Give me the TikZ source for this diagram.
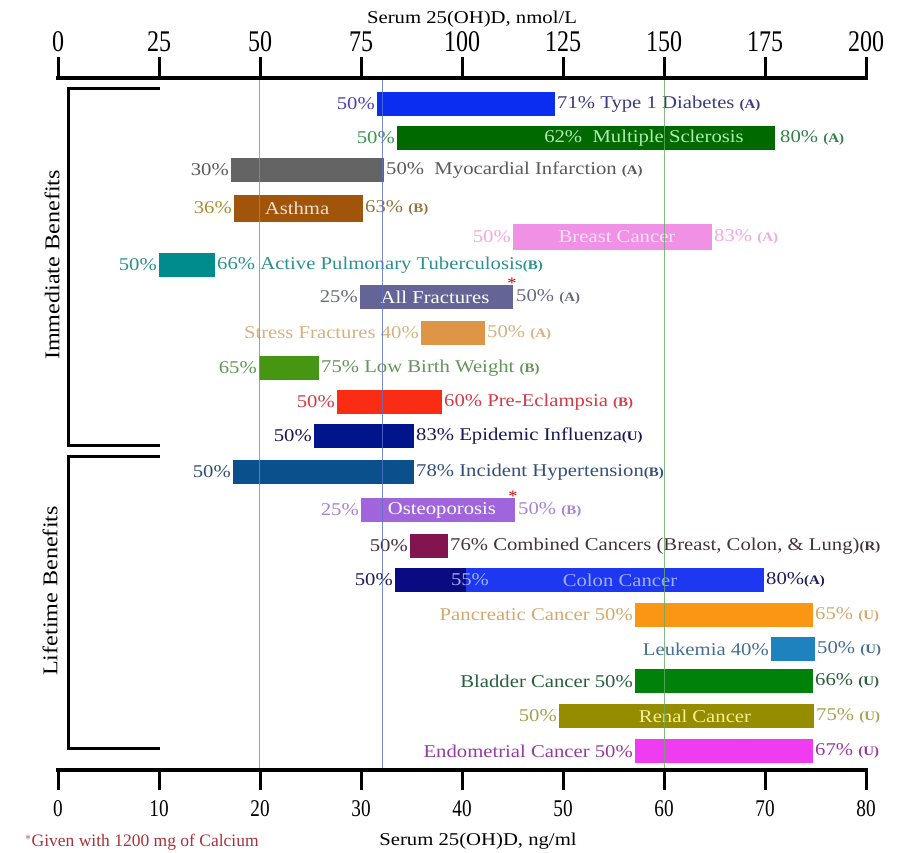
\documentclass[tikz,border=0pt]{standalone}
\usepackage{fontspec}
\setmainfont{Liberation Serif}[FakeStretch=1.15]
\newfontfamily\tickfont{Liberation Serif}[FakeStretch=0.8]
\newfontfamily\notefont{Liberation Serif}
\usepackage{tikz}
\usetikzlibrary{positioning}
\usepackage{xcolor}
\definecolor{refRed}{RGB}{215,105,105}
\definecolor{refBlue}{RGB}{90,110,200}
\definecolor{refGreen}{RGB}{100,170,100}
\definecolor{barT1D}{RGB}{10,45,240}
\definecolor{txtT1D}{RGB}{60,60,125}
\definecolor{lftT1D}{RGB}{75,65,185}
\definecolor{barMS}{RGB}{0,105,0}
\definecolor{inMS}{RGB}{175,235,175}
\definecolor{txtMS}{RGB}{60,150,85}
\definecolor{barMI}{RGB}{100,100,100}
\definecolor{txtMI}{RGB}{90,90,90}
\definecolor{barAsthma}{RGB}{160,85,10}
\definecolor{inAsthma}{RGB}{240,225,210}
\definecolor{txtAsthma}{RGB}{150,115,60}
\definecolor{barBreast}{RGB}{240,145,230}
\definecolor{inBreast}{RGB}{252,225,250}
\definecolor{txtBreast}{RGB}{238,170,228}
\definecolor{barTB}{RGB}{0,140,140}
\definecolor{txtTB}{RGB}{45,145,145}
\definecolor{barFrac}{RGB}{100,100,150}
\definecolor{txtFrac}{RGB}{105,105,130}
\definecolor{barStress}{RGB}{222,150,70}
\definecolor{txtStress}{RGB}{215,178,128}
\definecolor{barLBW}{RGB}{70,150,20}
\definecolor{txtLBW}{RGB}{100,150,90}
\definecolor{barPre}{RGB}{250,45,20}
\definecolor{txtPre}{RGB}{210,60,70}
\definecolor{barFlu}{RGB}{0,20,140}
\definecolor{txtFlu}{RGB}{25,25,85}
\definecolor{barHTN}{RGB}{10,80,140}
\definecolor{txtHTN}{RGB}{50,80,120}
\definecolor{barOsteo}{RGB}{160,100,220}
\definecolor{txtOsteo}{RGB}{170,130,210}
\definecolor{barComb}{RGB}{130,20,80}
\definecolor{txtComb}{RGB}{70,50,60}
\definecolor{barColonDk}{RGB}{10,10,130}
\definecolor{barColon}{RGB}{30,55,240}
\definecolor{inColon}{RGB}{160,175,250}
\definecolor{txtColon}{RGB}{30,30,90}
\definecolor{barPanc}{RGB}{250,150,20}
\definecolor{txtPanc}{RGB}{210,170,110}
\definecolor{barLeuk}{RGB}{30,130,190}
\definecolor{txtLeuk}{RGB}{70,110,150}
\definecolor{barBlad}{RGB}{0,130,10}
\definecolor{txtBlad}{RGB}{40,95,60}
\definecolor{barRenal}{RGB}{150,140,0}
\definecolor{inRenal}{RGB}{240,240,150}
\definecolor{txtRenal}{RGB}{170,160,80}
\definecolor{barEndo}{RGB}{240,60,240}
\definecolor{txtEndo}{RGB}{150,60,160}
\definecolor{noteRed}{RGB}{170,50,60}
\newcommand{\grade}[1]{{\fontsize{13}{13}\selectfont\bfseries(#1)}}

\begin{document}
\begin{tikzpicture}[x=1pt, y=-1pt,
    bar/.style={minimum height=24pt, inner sep=0pt, outer sep=0pt},
    lbl/.style={font=\fontsize{18}{20}\selectfont, inner sep=1pt},
    inbar/.style={font=\fontsize{18}{20}\selectfont, inner sep=0pt},
    astx/.style={font=\fontsize{16}{16}\selectfont, text=red!80!black, inner sep=0pt},
    axisline/.style={line width=3.5pt},
    tickmark/.style={line width=3pt},
    bracket/.style={line width=3pt},
    refline/.style={line width=0.9pt, opacity=0.8}
  ]
  \useasboundingbox[fill=white] (0,0) rectangle (915,852);

  \node[font=\fontsize{18}{20}\selectfont] (toptitle) at (472,19) {Serum 25(OH)D, nmol/L};
  \draw[axisline] (56,78) -- (868,78);
  \foreach \v [count=\i from 0] in {0,25,50,75,100,125,150,175,200} {
    \draw[tickmark] (58+101*\i,79) -- (58+101*\i,57);
    \node[font=\tickfont\fontsize{30}{30}\selectfont] at (58+101*\i,42) {\v};
  }
  \draw[axisline] (56,770) -- (868,770);
  \foreach \v [count=\i from 0] in {0,10,20,30,40,50,60,70,80} {
    \draw[tickmark] (58+101*\i,769) -- (58+101*\i,790);
    \node[font=\tickfont\fontsize{24}{24}\selectfont] at (58+101*\i,809) {\v};
  }
  \node[font=\fontsize{18}{20}\selectfont] (bottitle) at (478,841) {Serum 25(OH)D, ng/ml};
  \node[font=\notefont\fontsize{17.5}{17.5}\selectfont, text=noteRed, anchor=west, inner sep=0pt] (note) at (25,842) {$^*$Given with 1200 mg of Calcium};

  \draw[bracket] (160,88) -- (68,88) -- (68,445) -- (160,445);
  \draw[bracket] (160,456) -- (68,456) -- (68,748) -- (160,748);
  \node[rotate=90, font=\fontsize{21}{21}\selectfont] (immed) at (52,265) {Immediate Benefits};
  \node[rotate=90, font=\fontsize{21}{21}\selectfont] (life) at (50,591) {Lifetime Benefits};

  \node[bar, fill=barT1D, minimum width=178pt] (t1d) at (466,104) {};
  \node[lbl, text=lftT1D, left=1pt of t1d] (t1dL) {50\%};
  \node[lbl, text=txtT1D, right=1pt of t1d] (t1dR) {71\% Type 1 Diabetes \grade{A}};

  \node[bar, fill=barMS, minimum width=378pt] (ms) at (586,138) {};
  \node[inbar, text=inMS] (msIn) at (644,138) {62\%\ \ Multiple Sclerosis};
  \node[lbl, text=txtMS, left=1pt of ms] (msL) {50\%};
  \node[lbl, text=txtMS!85!black, right=4pt of ms] (msR) {80\% \grade{A}};

  \node[bar, fill=barMI, minimum width=153pt] (mi) at (307.5,170) {};
  \node[lbl, text=txtMI, left=1pt of mi] (miL) {30\%};
  \node[lbl, text=txtMI, right=1pt of mi] (miR) {50\%\ \ Myocardial Infarction \grade{A}};

  \node[bar, fill=barAsthma, minimum width=129pt, minimum height=27pt] (asthma) at (298.5,208) {};
  \node[inbar, text=inAsthma] (asthmaIn) at (297,208) {Asthma};
  \node[lbl, text=txtAsthma!80!yellow, left=1pt of asthma] (asthmaL) {36\%};
  \node[lbl, text=txtAsthma, right=1pt of asthma] (asthmaR) {63\% \grade{B}};

  \node[bar, fill=barBreast, minimum width=199pt, minimum height=26pt] (breast) at (612.5,237) {};
  \node[inbar, text=inBreast] (breastIn) at (617,237) {Breast Cancer};
  \node[lbl, text=txtBreast, left=1pt of breast] (breastL) {50\%};
  \node[lbl, text=txtBreast, right=1pt of breast] (breastR) {83\% \grade{A}};

  \node[bar, fill=barTB, minimum width=56pt] (tb) at (187,265) {};
  \node[lbl, text=txtTB, left=1pt of tb] (tbL) {50\%};
  \node[lbl, text=txtTB, right=1pt of tb] (tbR) {66\% Active Pulmonary Tuberculosis\grade{B}};

  \node[bar, fill=barFrac, minimum width=153pt] (afrac) at (436.5,297) {};
  \node[inbar, text=white] (afracIn) at (435,297) {All Fractures};
  \node[astx] (afracAst) at (512,283) {*};
  \node[lbl, text=txtFrac, right=2pt of afrac] (afracR) {50\% \grade{A}};
  \node[lbl, text=txtFrac, left=1pt of afrac] (afracL) {25\%};

  \node[bar, fill=barStress, minimum width=64pt] (sfrac) at (453,333) {};
  \node[lbl, text=txtStress, left=1pt of sfrac] (sfracL) {Stress Fractures 40\%};
  \node[lbl, text=txtStress, right=1pt of sfrac] (sfracR) {50\% \grade{A}};

  \node[bar, fill=barLBW, minimum width=60pt] (lbw) at (289,368) {};
  \node[lbl, text=txtLBW, left=1pt of lbw] (lbwL) {65\%};
  \node[lbl, text=txtLBW, right=1pt of lbw] (lbwR) {75\% Low Birth Weight \grade{B}};

  \node[bar, fill=barPre, minimum width=105pt] (preecl) at (389.5,402) {};
  \node[lbl, text=txtPre, left=1pt of preecl] (preeclL) {50\%};
  \node[lbl, text=txtPre, right=1pt of preecl] (preeclR) {60\% Pre-Eclampsia \grade{B}};

  \node[bar, fill=barFlu, minimum width=100pt] (flu) at (364,436) {};
  \node[lbl, text=txtFlu, left=1pt of flu] (fluL) {50\%};
  \node[lbl, text=txtFlu, right=1pt of flu] (fluR) {83\% Epidemic Influenza\grade{U}};

  \node[bar, fill=barHTN, minimum width=181pt] (htn) at (323.5,472) {};
  \node[lbl, text=txtHTN, left=1pt of htn] (htnL) {50\%};
  \node[lbl, text=txtHTN, right=1pt of htn] (htnR) {78\% Incident Hypertension\grade{B}};

  \node[bar, fill=barOsteo, minimum width=154pt] (osteo) at (438,510) {};
  \node[inbar, text=white] (osteoIn) at (442,510) {Osteoporosis};
  \node[astx] (osteoAst) at (513,496) {*};
  \node[lbl, text=txtOsteo, right=2pt of osteo] (osteoR) {50\% \grade{B}};
  \node[lbl, text=txtOsteo, left=1pt of osteo] (osteoL) {25\%};

  \node[bar, fill=barComb, minimum width=38pt] (comb) at (429,546) {};
  \node[lbl, text=txtComb, left=1pt of comb] (combL) {50\%};
  \node[lbl, text=txtComb, right=1pt of comb] (combR) {76\% Combined Cancers (Breast, Colon, \& Lung)\grade{R}};

  \node[bar, fill=barColon, minimum width=369pt] (colon) at (579.5,580) {};
  \node[bar, fill=barColonDk, minimum width=71pt] (colonDk) at (430.5,580) {};
  \node[inbar, text=inColon] (colonPct) at (470,580) {55\%};
  \node[inbar, text=inColon] (colonIn) at (620,580) {Colon Cancer};
  \node[lbl, text=txtColon, left=1pt of colon] (colonL) {50\%};
  \node[lbl, text=txtColon, right=1pt of colon] (colonR) {80\%\grade{A}};

  \node[bar, fill=barPanc, minimum width=178pt] (panc) at (724,615) {};
  \node[lbl, text=txtPanc, left=1pt of panc] (pancL) {Pancreatic Cancer 50\%};
  \node[lbl, text=txtPanc, right=1pt of panc] (pancR) {65\% \grade{U}};

  \node[bar, fill=barLeuk, minimum width=44pt] (leuk) at (793,649) {};
  \node[lbl, text=txtLeuk, left=1pt of leuk] (leukL) {Leukemia 40\%};
  \node[lbl, text=txtLeuk, right=1pt of leuk] (leukR) {50\% \grade{U}};

  \node[bar, fill=barBlad, minimum width=178pt] (blad) at (724,681) {};
  \node[lbl, text=txtBlad, left=1pt of blad] (bladL) {Bladder Cancer 50\%};
  \node[lbl, text=txtBlad, right=1pt of blad] (bladR) {66\% \grade{U}};

  \node[bar, fill=barRenal, minimum width=255pt] (renal) at (686.5,716) {};
  \node[inbar, text=inRenal] (renalIn) at (695,716) {Renal Cancer};
  \node[lbl, text=txtRenal, left=1pt of renal] (renalL) {50\%};
  \node[lbl, text=txtRenal, right=1pt of renal] (renalR) {75\% \grade{U}};

  \node[bar, fill=barEndo, minimum width=178pt] (endo) at (724,751) {};
  \node[lbl, text=txtEndo, left=1pt of endo] (endoL) {Endometrial Cancer 50\%};
  \node[lbl, text=txtEndo, right=1pt of endo] (endoR) {67\% \grade{U}};

  \draw[refline, refRed] (259,80) -- (259,768);
  \draw[refline, refBlue] (382,80) -- (382,768);
  \draw[refline, refGreen] (664,80) -- (664,768);
\end{tikzpicture}
\end{document}
